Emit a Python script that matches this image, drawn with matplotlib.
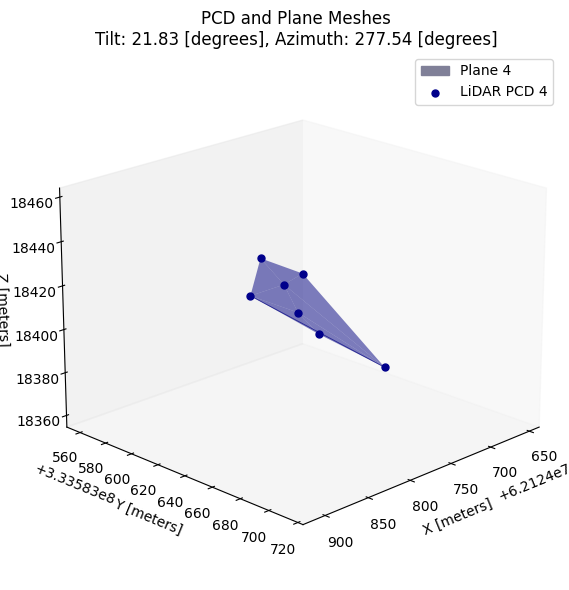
import numpy as np
from matplotlib import pyplot as plt
from mpl_toolkits.mplot3d.art3d import Poly3DCollection
from matplotlib.patches import Patch

x_off = 6.2124e7
y_off = 3.33583e8

# lidar points relative to the axis offsets
x_pts = [730.5, 770.9, 812.3, 798.4, 821.4, 835.4, 825.8]
y_pts = [665.8, 642.2, 617.3, 643.4, 647.4, 639.3, 663.3]
z_pts = [18382.2, 18397.7, 18415.4, 18411.6, 18428.0, 18439.8, 18436.8]

# mesh triangles, indexes into the points above
triangles = [(5, 6, 4), (5, 4, 2), (4, 6, 0), (4, 0, 3), (4, 3, 2), (2, 3, 1), (3, 1, 0)]

x = np.array(x_pts) + x_off
y = np.array(y_pts) + y_off
z = np.array(z_pts, dtype=float)

fig = plt.figure(figsize=(5.69, 5.9), dpi=100)
ax = fig.add_subplot(projection='3d')
ax.set_position([0.057, 0.017, 0.926, 0.893])

verts = [[(x[i], y[i], z[i]) for i in t] for t in triangles]
ax.add_collection3d(Poly3DCollection(verts, facecolor=(0, 0, 0.5, 0.5), edgecolor='none'))
ax.plot([x[0], x[2]], [y[0], y[2]], [z[0], z[2]], color='navy', lw=0.6, alpha=0.7)
ax.scatter(x, y, z, color='darkblue', s=25, depthshade=False, label='LiDAR PCD 4')

ax.set_xlim(x_off + 637, x_off + 925)
ax.set_ylim(y_off + 549.5, y_off + 723.5)
ax.set_zlim(18354.5, 18464)
ax.view_init(elev=20, azim=45)
ax.set_xlabel('X [meters]')
ax.set_ylabel('Y [meters]')
ax.set_zlabel('Z [meters]')
ax.grid(False)
ax.set_title('PCD and Plane Meshes\nTilt: 21.83 [degrees], Azimuth: 277.54 [degrees]', x=0.5, y=1.087)

h, l = ax.get_legend_handles_labels()
ax.legend([Patch(color='#808098')] + h, ['Plane 4'] + l, loc='upper right',
          bbox_to_anchor=(0.984, 0.912), bbox_transform=fig.transFigure)
fig.savefig('out.png', dpi=100)
